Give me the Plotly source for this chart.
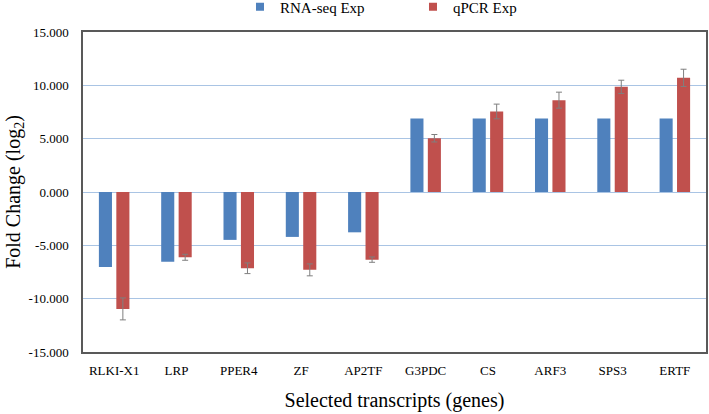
import plotly.graph_objects as go

genes = ["RLKI-X1", "LRP", "PPER4", "ZF", "AP2TF", "G3PDC", "CS", "ARF3", "SPS3", "ERTF"]
rnaseq = [-7.02, -6.55, -4.49, -4.21, -3.78, 6.90, 6.90, 6.90, 6.90, 6.90]
qpcr = [-10.96, -6.12, -7.15, -7.30, -6.34, 5.04, 7.55, 8.61, 9.86, 10.70]
qpcr_err = [1.03, 0.28, 0.50, 0.56, 0.25, 0.35, 0.69, 0.75, 0.62, 0.81]

ytick_vals = [-15, -10, -5, 0, 5, 10, 15]
ytick_text = ["-15.000", "-10.000", "-5.000", "0.000", "5.000", "10.000", "15.000"]

BLUE = "#4F81BD"
RED = "#C0504D"
FONT = "Liberation Serif, serif"

fig = go.Figure()
fig.add_trace(go.Bar(name="RNA-seq Exp", x=genes, y=rnaseq, marker_color=BLUE,
                     marker_line_width=0, showlegend=False))
fig.add_trace(go.Bar(name="qPCR Exp", x=genes, y=qpcr, marker_color=RED,
                     marker_line_width=0, showlegend=False,
                     error_y=dict(type="data", array=qpcr_err, visible=True,
                                  color="#7f7f7f", thickness=1, width=3)))
# legend entries
fig.add_trace(go.Scatter(name="RNA-seq Exp", x=[None], y=[None], mode="markers",
                         marker=dict(symbol="square", size=8, color=BLUE)))
fig.add_trace(go.Scatter(name="qPCR Exp", x=[None], y=[None], mode="markers",
                         marker=dict(symbol="square", size=8, color=RED)))

fig.update_layout(
    width=709, height=414,
    margin=dict(l=83, r=3, t=32, b=62, autoexpand=False),
    paper_bgcolor="white", plot_bgcolor="white",
    font=dict(family=FONT, size=13, color="#000000"),
    barmode="group", bargap=0.44, bargroupgap=0.25,
    legend=dict(orientation="h", x=0.252, xanchor="left", y=1.078, yanchor="middle",
                font=dict(size=15), entrywidth=128, itemwidth=30,
                bgcolor="rgba(0,0,0,0)"),
    xaxis=dict(
        title=dict(text="Selected transcripts (genes)", font=dict(size=20), standoff=16),
        showline=True, linecolor="#595959", linewidth=1.5, mirror=True,
        showgrid=False, ticks="", ticklabelstandoff=6, automargin=False,
    ),
    yaxis=dict(
        title=dict(text="Fold Change (log<sub>2</sub>)", font=dict(size=20), standoff=3),
        range=[-15, 15], tickvals=ytick_vals, ticktext=ytick_text,
        showline=True, linecolor="#595959", linewidth=1.5, mirror=True,
        showgrid=True, gridcolor="#A9C4E4", gridwidth=1.2,
        zeroline=True, zerolinecolor="#A9C4E4", zerolinewidth=1.2,
        ticks="", ticklabelstandoff=10, automargin=False,
    ),
)

fig.write_html("out.html", config={"displayModeBar": False},
               post_script="document.body.style.margin='0';document.body.style.overflow='hidden';")
